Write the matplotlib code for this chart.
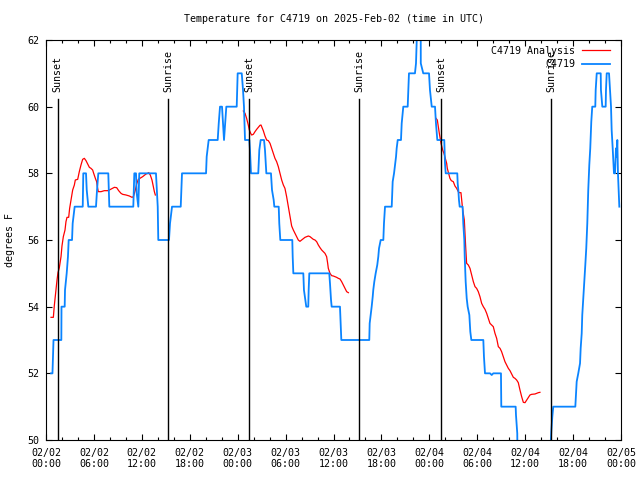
import numpy as np
import matplotlib
matplotlib.use("Agg")
import matplotlib.pyplot as plt
import matplotlib.transforms as mtransforms
from matplotlib.ticker import FixedLocator, MultipleLocator

plt.rcParams['font.family'] = ['DejaVu Sans Mono']
plt.rcParams['font.size'] = 7.2

title = "Temperature for C4719 on 2025-Feb-02 (time in UTC)"
ylabel = "degrees F"

# hours since 2025-02-02 00:00 UTC
obs_hours = [0.63, 0.81, 0.88, 0.94, 1.92, 1.94, 2.34, 2.38, 2.59, 2.75, 2.84, 3.26, 3.34, 3.59,
             4.60, 4.67, 5.01, 5.10, 5.30, 6.26, 6.39, 6.55, 7.80, 7.93, 10.93, 11.06, 11.27,
             11.36, 11.56, 11.68, 13.77, 13.99, 14.06, 15.40, 15.53, 15.78, 16.87, 17.03, 20.04,
             20.12, 20.37, 21.50, 21.63, 21.79, 22.04, 22.29, 22.58, 23.88, 23.94, 24.00, 24.51,
             24.67, 24.79, 24.92, 25.46, 25.54, 25.67, 26.58, 26.71, 26.88, 27.30, 27.42, 27.59,
             28.17, 28.30, 28.51, 28.59, 29.14, 29.21, 29.34, 30.84, 30.89, 30.97, 32.22, 32.30,
             32.47, 32.59, 32.84, 32.89, 32.97, 35.47, 35.56, 35.69, 35.77, 36.81, 36.90, 36.98,
             40.48, 40.53, 40.66, 40.78, 40.91, 40.98, 41.11, 41.28, 41.48, 41.61, 41.70, 41.91,
             42.24, 42.32, 42.45, 43.29, 43.41, 43.58, 43.70, 43.83, 43.91, 44.04, 44.45, 44.54,
             44.74, 45.29, 45.37, 45.45, 46.20, 46.33, 46.49, 46.92, 46.93, 47.24, 47.96, 48.08,
             48.30, 48.71, 48.83, 49.00, 49.87, 49.96, 50.05, 51.50, 51.55, 51.63, 51.71, 51.80,
             52.17, 52.25, 52.38, 52.43, 52.55, 52.68, 52.80, 53.01, 53.13, 53.26, 54.76, 54.84,
             54.97, 55.60, 55.81, 56.01, 56.97, 57.01, 58.81, 58.85, 59.01, 59.04, 63.11, 63.27,
             63.40, 63.52, 66.28, 66.37, 66.45, 66.65, 66.87, 66.95, 67.08, 67.15, 67.28, 67.40,
             67.53, 67.65, 67.78, 67.90, 68.03, 68.15, 68.28, 68.40, 68.78, 68.83, 68.96, 69.46,
             69.49, 69.66, 70.08, 70.12, 70.21, 70.50, 70.62, 70.75, 70.83, 70.96, 71.12, 71.25,
             71.37, 71.46, 71.54, 71.62, 71.71, 71.79]
obs_temp = [52, 52, 52.5, 53, 53, 54, 54, 54.5, 55, 55.5, 56, 56, 56.5, 57,
            57, 58, 58, 57.5, 57, 57, 57.5, 58, 58, 57, 57, 58, 58,
            57.4, 57, 58, 58, 57, 56, 56, 56.5, 57, 57, 58, 58,
            58.5, 59, 59, 59.5, 60, 60, 59, 60, 60, 60.5, 61, 61,
            60.5, 60, 59, 59, 58.7, 58, 58, 58.7, 59, 59, 58.7, 58,
            58, 57.5, 57.2, 57, 57, 56.5, 56, 56, 55.5, 55, 55, 54.5,
            54.2, 54, 54, 54.5, 55, 55, 54.7, 54.2, 54, 54, 53.5, 53,
            53, 53.5, 53.75, 54, 54.3, 54.5, 54.75, 55, 55.25, 55.5, 55.75, 56,
            56, 56.5, 57, 57, 57.75, 58, 58.25, 58.5, 58.75, 59, 59, 59.5,
            60, 60, 60.5, 61, 61, 61.3, 62.5, 62.5, 61.3, 61, 61, 60.5,
            60, 60, 59.5, 59, 59, 58.3, 58, 58, 57.7, 57.5, 57.2, 57,
            57, 56.5, 56, 55.5, 54.75, 54.25, 54, 53.75, 53.25, 53, 53, 52.5,
            52, 52, 51.95, 52, 52, 51, 51, 50.75, 50.2, 49.5, 49.5, 50.25,
            50.7, 51, 51, 51.4, 51.75, 52, 52.3, 52.75, 53.2, 53.75, 54.25, 54.75,
            55.25, 55.75, 56.5, 57.5, 58.25, 58.75, 59.55, 60, 60, 60.5, 61, 61,
            60.5, 60, 60, 60.5, 61, 61, 60.5, 60, 59.3, 58.75, 58, 58,
            58.75, 58.5, 59, 58, 57.5, 57]

ana_hours = [0.63, 0.92, 1.04, 1.25, 1.38, 1.50, 1.67, 1.88, 2.00, 2.17, 2.38, 2.50, 2.63, 2.84,
             2.96, 3.13, 3.34, 3.55, 3.67, 3.97, 4.17, 4.38, 4.59, 4.80, 5.01, 5.22, 5.43, 5.63,
             5.84, 5.97, 6.18, 6.34, 6.43, 6.55, 6.89, 7.30, 7.72, 7.93, 8.26, 8.56, 8.85, 9.10,
             9.39, 9.60, 10.02, 10.44, 10.77, 10.94, 11.06, 11.19, 11.35, 11.56, 11.77, 12.10,
             12.52, 12.73, 12.86, 13.06, 13.27, 13.44, 13.57, 13.69,
             13.70,
             24.71, 24.92, 25.12, 25.33, 25.46, 25.63, 25.75, 25.96, 26.17, 26.38, 26.59, 26.79,
             26.92, 27.04, 27.21, 27.42, 27.63, 27.84, 28.05, 28.26, 28.46, 28.67, 28.88, 29.09,
             29.30, 29.51, 29.72, 29.92, 30.13, 30.34, 30.55, 30.76, 30.97, 31.18, 31.39, 31.59,
             31.80, 32.01, 32.22, 32.43, 32.64, 32.85, 33.06, 33.26, 33.47, 33.68, 33.89, 34.10,
             34.31, 34.52, 34.73, 34.93, 35.14, 35.27, 35.35, 35.56, 35.77, 35.98, 36.19, 36.39,
             36.60, 36.81, 37.02, 37.23, 37.44, 37.65, 37.86,
             37.87,
             48.83, 49.00, 49.12, 49.25, 49.46, 49.67, 49.83, 50.00, 50.17, 50.25, 50.42, 50.58,
             50.75, 51.00, 51.21, 51.42, 51.63, 51.75, 51.96, 52.05, 52.17, 52.38, 52.46, 52.55,
             52.67, 52.88, 53.09, 53.30, 53.51, 53.72, 53.92, 54.13, 54.34, 54.55, 54.76, 54.97,
             55.18, 55.38, 55.59, 55.80, 56.01, 56.22, 56.43, 56.64, 56.85, 57.05, 57.26, 57.47,
             57.68, 57.89, 58.10, 58.31, 58.52, 58.72, 58.93, 59.14, 59.35, 59.56, 59.77, 59.98,
             60.19, 60.39, 60.60, 60.81, 61.23, 61.65, 61.85]
ana_temp = [53.68, 53.68, 54.03, 54.5, 54.8, 55.02, 55.17, 55.5, 55.82, 56.1, 56.3, 56.55, 56.68, 56.68,
            56.95, 57.2, 57.5, 57.65, 57.8, 57.82, 58.05, 58.25, 58.42, 58.45, 58.38, 58.28, 58.18, 58.15,
            58.1, 58.0, 57.85, 57.75, 57.6, 57.45, 57.45, 57.48, 57.48, 57.5, 57.54, 57.58, 57.57, 57.48,
            57.4, 57.37, 57.35, 57.32, 57.28, 57.3, 57.4, 57.5, 57.68, 57.82, 57.85, 57.9,
            57.98, 58.0, 58.02, 57.95, 57.8, 57.6, 57.45, 57.35,
            np.nan,
            59.87, 59.8, 59.65, 59.45, 59.3, 59.2, 59.15, 59.17, 59.25, 59.32, 59.38, 59.44,
            59.45, 59.38, 59.28, 59.12, 59.0, 58.98, 58.9, 58.75, 58.6, 58.45, 58.35, 58.2,
            58.0, 57.8, 57.65, 57.55, 57.3, 57.0, 56.7, 56.42, 56.3, 56.2, 56.1, 56.0,
            55.96, 56.0, 56.04, 56.08, 56.1, 56.12, 56.1, 56.06, 56.02, 56.0, 55.95, 55.85,
            55.77, 55.7, 55.65, 55.6, 55.5, 55.3, 55.15, 55.0, 54.93, 54.92, 54.9, 54.88,
            54.85, 54.83, 54.75, 54.65, 54.55, 54.45, 54.42,
            np.nan,
            59.65, 59.6, 59.4, 59.2, 58.9, 58.7, 58.6, 58.45, 58.3, 58.15, 58.0, 57.85,
            57.78, 57.75, 57.62, 57.55, 57.45, 57.42, 57.42, 57.2, 56.92, 56.6, 56.2, 55.8,
            55.3, 55.25, 55.15, 54.95, 54.75, 54.6, 54.55, 54.45, 54.3, 54.1, 54.0, 53.92,
            53.8, 53.65, 53.5, 53.45, 53.4, 53.2, 53.05, 52.8, 52.75, 52.65, 52.5, 52.35,
            52.25, 52.15, 52.08, 51.98, 51.88, 51.85, 51.8, 51.72, 51.5, 51.3, 51.13, 51.12,
            51.2, 51.28, 51.35, 51.37, 51.38, 51.42, 51.43]

event_hours = [1.46, 15.32, 25.46, 39.24, 49.51, 63.27]
event_labels = ["Sunset", "Sunrise", "Sunset", "Sunrise", "Sunset", "Sunrise"]

tick_hours = [0, 6, 12, 18, 24, 30, 36, 42, 48, 54, 60, 66, 72]
tick_labels = ["02/02\n00:00", "02/02\n06:00", "02/02\n12:00", "02/02\n18:00",
               "02/03\n00:00", "02/03\n06:00", "02/03\n12:00", "02/03\n18:00",
               "02/04\n00:00", "02/04\n06:00", "02/04\n12:00", "02/04\n18:00",
               "02/05\n00:00"]
y_ticks = [50, 52, 54, 56, 58, 60, 62]

fig = plt.figure(figsize=(6.4, 4.8), dpi=100)
ax = fig.add_axes([46/640, 40/480, 575/640, 400/480])

ln_a, = ax.plot(ana_hours, ana_temp, color='#ff0000', lw=0.9, label='C4719 Analysis')
ln_o, = ax.plot(obs_hours, obs_temp, color='#0a84ff', lw=1.3, label='C4719')

trans = mtransforms.blended_transform_factory(ax.transData, ax.transAxes)
for h, lab in zip(event_hours, event_labels):
    ax.axvline(h, ymin=0, ymax=0.852, color='black', lw=1.0)
    ax.text(h, 0.871, lab, rotation=90, transform=trans, ha='center', va='bottom')

ax.set_xlim(0, 72)
ax.set_ylim(50, 62)
ax.xaxis.set_major_locator(FixedLocator(tick_hours))
ax.set_xticklabels(tick_labels, linespacing=1.1)
ax.xaxis.set_minor_locator(MultipleLocator(2))
ax.set_yticks(y_ticks)
ax.set_yticklabels([str(v) for v in y_ticks])
ax.tick_params(which='both', direction='in', top=True, right=True, width=0.8)
ax.tick_params(which='major', length=4.0)
ax.tick_params(which='minor', length=2.2)
ax.tick_params(axis='x', which='major', pad=6)
ax.tick_params(axis='y', which='major', pad=4.5)
for s in ax.spines.values():
    s.set_linewidth(0.8)

leg = ax.legend(handles=[ln_a, ln_o], loc='upper right', bbox_to_anchor=(0.981, 0.986),
                frameon=False, markerfirst=False, borderpad=0, borderaxespad=0,
                handlelength=2.8, handletextpad=0.7, labelspacing=0.38, fontsize=7.2)

fig.text(333.5/640, 1 - 19/480, title, ha='center', va='center')
fig.text(10/640, 0.5, ylabel, rotation=90, ha='center', va='center')

fig.savefig('out.png', dpi=100)
